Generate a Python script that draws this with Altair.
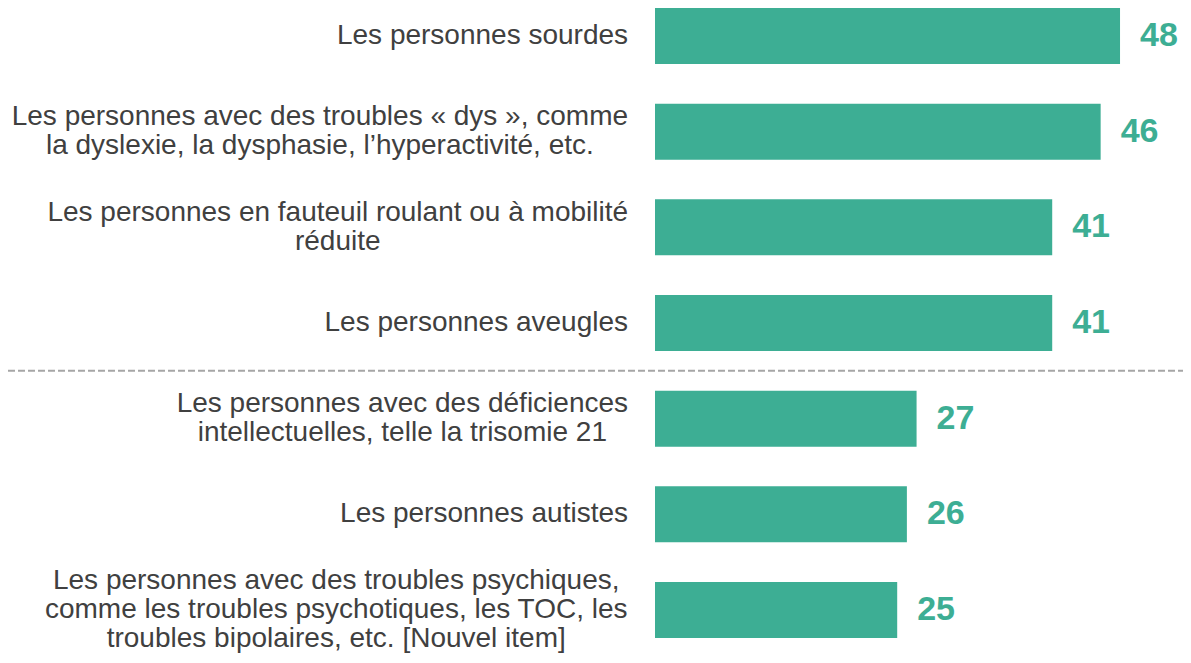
import altair as alt
import pandas as pd

# ---- data ----
categories = [
    "Les personnes sourdes",
    "Les personnes avec des troubles « dys », comme\nla dyslexie, la dysphasie, l’hyperactivité, etc.",
    "Les personnes en fauteuil roulant ou à mobilité\nréduite",
    "Les personnes aveugles",
    "Les personnes avec des déficiences\nintellectuelles, telle la trisomie 21",
    "Les personnes autistes",
    "Les personnes avec des troubles psychiques,\ncomme les troubles psychotiques, les TOC, les\ntroubles bipolaires, etc. [Nouvel item]",
]
values = [48, 46, 41, 41, 27, 26, 25]

# ---- layout / style ----
TEAL = "#3DAE94"
TEXT = "#404040"
FONT = "Liberation Sans"
LABEL_SIZE = 28
LINE_H = 29
LEFT = 647          # room for the category labels
W, H = 528, 630
X_MAX = 54.5
PAD_INNER = 0.415
LABEL_RIGHT = -27   # right edge of label block relative to plot origin

# Arial / Liberation Sans advance widths (per 1000 em) to centre label blocks
_w = {" ": 278, ",": 278, ".": 278, "[": 278, "]": 278, "«": 556, "»": 556,
      "’": 222, "'": 191, "-": 333}
for c in "0123456789": _w[c] = 556
_up = dict(A=667, B=667, C=722, D=722, E=667, F=611, G=778, H=722, I=278, J=500,
           K=667, L=556, M=833, N=722, O=778, P=667, Q=778, R=722, S=667, T=611,
           U=722, V=667, W=944, X=667, Y=667, Z=611)
_lo = dict(a=556, b=556, c=500, d=556, e=556, f=278, g=556, h=556, i=222, j=222,
           k=500, l=222, m=833, n=556, o=556, p=556, q=556, r=333, s=500, t=278,
           u=556, v=500, w=722, x=500, y=500, z=500)
_w.update(_up); _w.update(_lo)
for c in "éèêàâ": _w[c] = 556

def text_width(s, size):
    return max(sum(_w.get(ch, 556) for ch in line) for line in s.split("\n")) * size / 1000

step = H / (len(categories) - PAD_INNER)
band = step * (1 - PAD_INNER)
y_sep = 4 * step - step * PAD_INNER / 2

df = pd.DataFrame({"cat": categories, "val": values})
df["cx"] = [LABEL_RIGHT - text_width(c, LABEL_SIZE) / 2 for c in categories]
df["yoff"] = [band / 2 - c.count("\n") / 2 * LINE_H for c in categories]

yenc = alt.Y("cat:N", sort=categories, axis=None,
             scale=alt.Scale(paddingInner=PAD_INNER, paddingOuter=0))
xscale = alt.Scale(domain=[0, X_MAX], nice=False, zero=True)

base = alt.Chart(df)

bars = base.mark_bar(color=TEAL).encode(
    x=alt.X("val:Q", scale=xscale, axis=None),
    y=yenc,
)

vals = base.mark_text(align="left", baseline="middle", dx=20, fontSize=34,
                      fontWeight="bold", font=FONT, color=TEAL).encode(
    x=alt.X("val:Q", scale=xscale, axis=None),
    y=yenc,
    text=alt.Text("val:Q"),
)

labels = base.mark_text(align="center", baseline="middle", fontSize=LABEL_SIZE,
                        font=FONT, color=TEXT, lineBreak="\n", lineHeight=LINE_H).encode(
    x=alt.X("cx:Q", scale=None, axis=None),
    y=yenc,
    yOffset=alt.YOffset("yoff:Q", scale=None),
    text="cat:N",
)

sep = alt.Chart(pd.DataFrame({"s": [0]})).mark_rule(
    color="#A6A6A6", strokeWidth=2, strokeDash=[7, 3]
).encode(
    x=alt.value(-LEFT), x2=alt.value(W + 8), y=alt.value(y_sep)
)

chart = alt.layer(bars, vals, labels, sep).properties(
    width=W, height=H,
    autosize=alt.AutoSizeParams(type="none"),
    padding={"left": LEFT, "top": 0, "right": 0, "bottom": 17},
).configure(background="white").configure_view(stroke=None).configure_axis(grid=False, domain=False)

chart.save("out.html", embed_options={"renderer": "svg", "actions": False})
